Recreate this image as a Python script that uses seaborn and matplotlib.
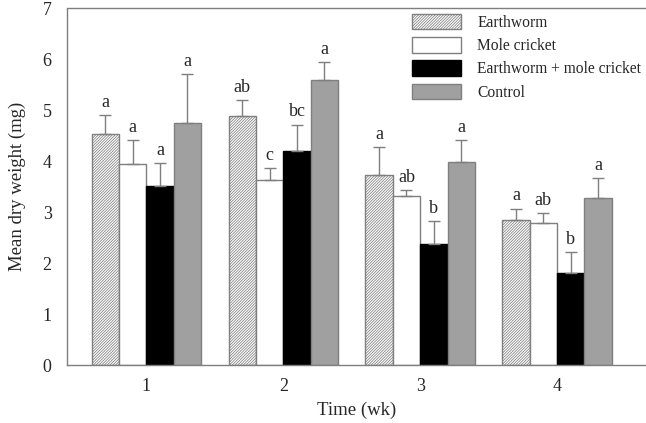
"""
Mean dry weight per treatment over time (grouped bars + SE + letters).
"""

import matplotlib
matplotlib.use("Agg")
import matplotlib.pyplot as plt
import seaborn as sns
import pandas as pd

# ---------------------------------------------------------------------------
# Data
# ---------------------------------------------------------------------------

weeks = ["1", "2", "3", "4"]
treatments = ["Earthworm", "Mole cricket", "Earthworm + mole cricket", "Control"]

earthworm = [4.53, 4.89, 3.73, 2.84]
mole_cricket = [3.95, 3.64, 3.31, 2.78]
combined = [3.51, 4.20, 2.37, 1.81]
control = [4.75, 5.60, 3.99, 3.28]

earthworm_se = [0.38, 0.31, 0.55, 0.23]
mole_cricket_se = [0.46, 0.22, 0.13, 0.21]
combined_se = [0.46, 0.52, 0.45, 0.40]
control_se = [0.96, 0.35, 0.42, 0.39]

earthworm_lbl = ["a", "ab", "a", "a"]
mole_cricket_lbl = ["a", "c", "ab", "ab"]
combined_lbl = ["a", "bc", "b", "b"]
control_lbl = ["a", "a", "a", "a"]

means = [earthworm, mole_cricket, combined, control]
errors = [earthworm_se, mole_cricket_se, combined_se, control_se]
letters = [earthworm_lbl, mole_cricket_lbl, combined_lbl, control_lbl]

df = pd.DataFrame(
    [(w, t, m[i]) for t, m in zip(treatments, means) for i, w in enumerate(weeks)],
    columns=["week", "treatment", "weight"],
)

# ---------------------------------------------------------------------------
# Style
# ---------------------------------------------------------------------------

sns.set_style("white")
plt.rcParams["font.family"] = ["Liberation Serif", "DejaVu Serif"]
plt.rcParams["hatch.color"] = "#a0a0a0"
plt.rcParams["hatch.linewidth"] = 0.55

edge = "#7f7f7f"
faces = ["white", "white", "black", "#a0a0a0"]
edges = [edge, edge, "black", edge]
hatches = ["/" * 12, None, None, None]

fig = plt.figure(figsize=(6.46, 4.23), dpi=100)
ax = fig.add_axes([67 / 646, 1 - 365 / 423, 1 - 67 / 646, 356.5 / 423])

sns.barplot(
    data=df, x="week", y="weight", hue="treatment",
    hue_order=treatments, order=weeks,
    errorbar=None, legend=False, width=0.8, ax=ax,
)

for cont, fc, ec, h, err, lbls in zip(ax.containers, faces, edges, hatches, errors, letters):
    for bar, e, lb in zip(cont.patches, err, lbls):
        bar.set_facecolor(fc)
        bar.set_edgecolor(ec)
        bar.set_linewidth(1.0)
        if h:
            bar.set_hatch(h)
        x = bar.get_x() + bar.get_width() / 2
        y = bar.get_height()
        ax.errorbar(x, y, yerr=[[0], [e]], fmt="none", ecolor=edge,
                    elinewidth=1.0, capsize=4.3, capthick=1.0, zorder=1)
        ax.annotate(lb, (x, y + e), xytext=(0, 3), textcoords="offset points",
                    ha="center", va="bottom", fontsize=13)

ax.set_xlim(-0.58, 3.65)
ax.set_ylim(0, 7)
ax.set_yticks(range(8))
ax.set_xlabel("Time (wk)", fontsize=13.5, labelpad=5)
ax.set_ylabel("Mean dry weight (mg)", fontsize=13.5, labelpad=12)
ax.tick_params(axis="y", direction="in", length=6.5, width=1, color=edge,
               labelsize=13, pad=11)
ax.tick_params(axis="x", length=0, labelsize=13, pad=9)

for side in ["left", "bottom", "top"]:
    ax.spines[side].set_color(edge)
    ax.spines[side].set_linewidth(1.0)
ax.spines["right"].set_visible(False)

ax.legend(
    handles=ax.containers, labels=treatments,
    loc="upper left", bbox_to_anchor=(412 / 646, 1 - 14 / 423),
    bbox_transform=fig.transFigure, frameon=False, fontsize=11.2,
    handlelength=3.15, handleheight=1.15, handletextpad=1.05,
    labelspacing=0.4, borderpad=0, borderaxespad=0,
)

fig.savefig("out.png", dpi=100)
plt.close(fig)
